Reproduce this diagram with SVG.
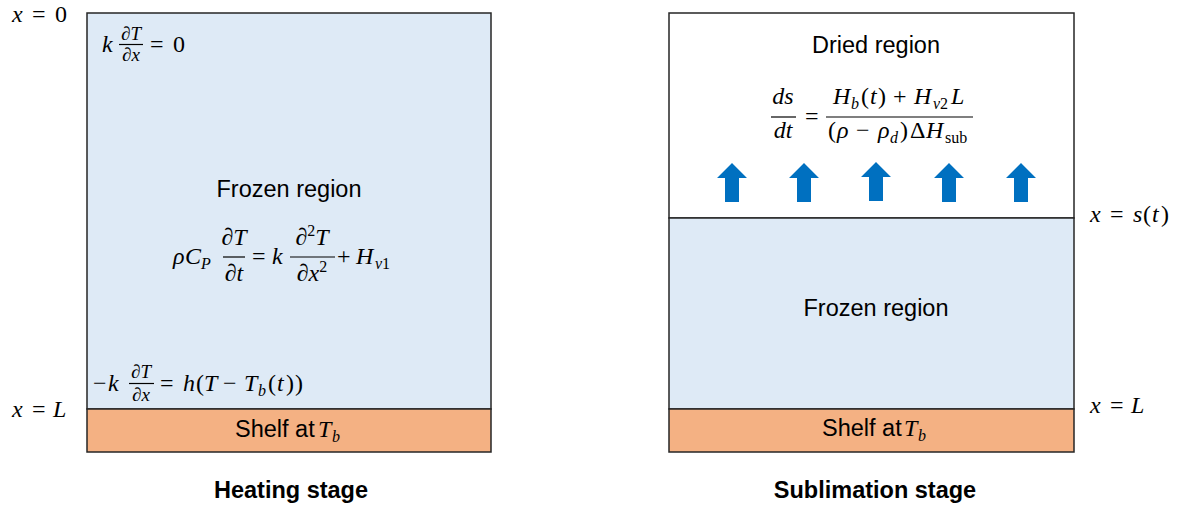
<svg xmlns="http://www.w3.org/2000/svg" width="1183" height="508" viewBox="0 0 1183 508">
<style>
.t{font-family:"Liberation Sans",Arial,sans-serif;font-size:23.5px;fill:#000}
.b{font-weight:bold}
.m{font-family:"Liberation Serif","Times New Roman",serif;font-size:24px;fill:#000}
.i{font-style:italic}
.f{font-size:19px}
.s{font-size:16px}
.box{stroke:#262626;stroke-width:1.5}
.frac{stroke:#000;stroke-width:1.2}
.blue{fill:#DEEAF6}
.orange{fill:#F4B183}
.white{fill:#FFFFFF}
.arrow{fill:#0070C0}
</style>
<defs>
<path id="up" d="M0,163 L15,178 L7,178 L7,202 L-7,202 L-7,178 L-15,178 Z"/>
</defs>
<rect width="1183" height="508" fill="#fff"/>

<g id="heating-stage">
<rect class="blue box" x="87" y="13" width="404" height="396"/>
<rect class="orange box" x="87" y="409" width="404" height="43"/>
<text class="t" x="289" y="197" text-anchor="middle">Frozen region</text>
<!-- top BC -->
<text class="m i" x="102" y="52">k</text>
<text class="m i f" x="131" y="40" text-anchor="middle">∂T</text>
<line class="frac" x1="119" y1="44.5" x2="143" y2="44.5"/>
<text class="m i f" x="131" y="61" text-anchor="middle">∂x</text>
<text class="m" x="150" y="52">=</text>
<text class="m" x="173" y="52">0</text>
<!-- governing equation -->
<text class="m i" x="173" y="264">ρ<tspan x="185">C</tspan><tspan x="201" dy="5" class="s">P</tspan></text>
<text class="m i" x="234" y="245" text-anchor="middle">∂T</text>
<line class="frac" x1="223" y1="257" x2="245" y2="257"/>
<text class="m i" x="234" y="281" text-anchor="middle">∂t</text>
<text class="m" x="252" y="264">=</text>
<text class="m i" x="272" y="264">k</text>
<text class="m i" x="312" y="245" text-anchor="middle">∂<tspan class="s" font-style="normal" dy="-9">2</tspan><tspan dy="9">T</tspan></text>
<line class="frac" x1="290" y1="257" x2="335" y2="257"/>
<text class="m i" x="312" y="281" text-anchor="middle">∂x<tspan class="s" font-style="normal" dy="-9">2</tspan></text>
<text class="m" x="337" y="264">+</text>
<text class="m i" x="356" y="264">H<tspan x="375" dy="5" class="s">v</tspan><tspan class="s" font-style="normal">1</tspan></text>
<!-- bottom BC -->
<text class="m" x="93" y="391">−</text>
<text class="m i" x="108" y="391">k</text>
<text class="m i f" x="141" y="378" text-anchor="middle">∂T</text>
<line class="frac" x1="129" y1="383.5" x2="154" y2="383.5"/>
<text class="m i f" x="141" y="401" text-anchor="middle">∂x</text>
<text class="m" x="160" y="391">=</text>
<text class="m" x="183" y="391"><tspan class="i">h</tspan><tspan x="196">(</tspan><tspan x="204" class="i">T</tspan><tspan x="223">−</tspan><tspan x="244" class="i">T</tspan><tspan x="258" dy="5" class="s i">b</tspan><tspan x="268" dy="-5">(</tspan><tspan x="277" class="i">t</tspan><tspan x="286">)</tspan><tspan x="295">)</tspan></text>
<text class="t" x="235" y="437">Shelf at</text>
<text class="m i" x="318" y="437">T<tspan x="332" dy="5" class="s">b</tspan></text>
<text class="m" x="12" y="22"><tspan class="i">x</tspan><tspan x="32">=</tspan><tspan x="55">0</tspan></text>
<text class="m" x="12" y="417"><tspan class="i">x</tspan><tspan x="32">=</tspan><tspan x="53" class="i">L</tspan></text>
<text class="t b" x="291" y="498" text-anchor="middle">Heating stage</text>
</g>

<g id="sublimation-stage">
<rect class="white box" x="669" y="13" width="405" height="205"/>
<rect class="blue box" x="669" y="218" width="405" height="191"/>
<rect class="orange box" x="669" y="409" width="405" height="43"/>
<text class="t" x="876" y="53" text-anchor="middle">Dried region</text>
<text class="t" x="876" y="316" text-anchor="middle">Frozen region</text>
<!-- Stefan condition -->
<text class="m i" x="783" y="104" text-anchor="middle">ds</text>
<line class="frac" x1="771" y1="117" x2="796" y2="117"/>
<text class="m i" x="783" y="138" text-anchor="middle">dt</text>
<text class="m" x="805" y="124">=</text>
<text class="m" x="833" y="104"><tspan class="i">H</tspan><tspan x="851" dy="5" class="s i">b</tspan><tspan x="861" dy="-5">(</tspan><tspan x="870" class="i">t</tspan><tspan x="878">)</tspan><tspan x="893">+</tspan><tspan x="914" class="i">H</tspan><tspan x="933" dy="5" class="s i">v</tspan><tspan class="s">2</tspan><tspan x="951" dy="-5" class="i">L</tspan></text>
<line class="frac" x1="826" y1="117" x2="973" y2="117"/>
<text class="m" x="828" y="138"><tspan>(</tspan><tspan x="837" class="i">ρ</tspan><tspan x="856">−</tspan><tspan x="878" class="i">ρ</tspan><tspan x="890" dy="5" class="s i">d</tspan><tspan x="900" dy="-5">)</tspan><tspan x="910">Δ</tspan><tspan x="926" class="i">H</tspan><tspan x="945" dy="5" class="s">sub</tspan></text>
<text class="t" x="822" y="436">Shelf at</text>
<text class="m i" x="904" y="436">T<tspan x="918" dy="5" class="s">b</tspan></text>
<text class="m" x="1090" y="222"><tspan class="i">x</tspan><tspan x="1110">=</tspan><tspan x="1133" class="i">s</tspan><tspan x="1143">(</tspan><tspan x="1152" class="i">t</tspan><tspan x="1161">)</tspan></text>
<text class="m" x="1090" y="413"><tspan class="i">x</tspan><tspan x="1110">=</tspan><tspan x="1131" class="i">L</tspan></text>
<text class="t b" x="875" y="498" text-anchor="middle">Sublimation stage</text>
</g>

<g id="connectors">
<use href="#up" class="arrow" x="732" y="0"/>
<use href="#up" class="arrow" x="804" y="0"/>
<use href="#up" class="arrow" x="876" y="-1"/>
<use href="#up" class="arrow" x="949" y="0"/>
<use href="#up" class="arrow" x="1021" y="0"/>
</g>
</svg>
